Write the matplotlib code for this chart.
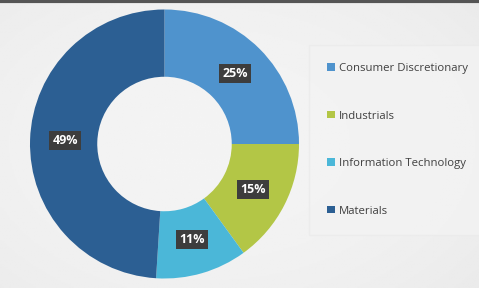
import matplotlib.pyplot as plt
from matplotlib.patches import Patch
import numpy as np

sectors = ['Consumer Discretionary', 'Industrials', 'Information Technology', 'Materials']
shares = [25, 15, 11, 49]
colors = ['#4f93cd', '#b3c646', '#4bb7d8', '#2c5f93']

W, H = 479, 288
fig = plt.figure(figsize=(W / 100, H / 100), dpi=100)

# soft grey background, lighter toward the middle
bg = fig.add_axes([0, 0, 1, 1])
yy, xx = np.mgrid[0:1:200j, 0:1:300j]
shade = 0.955 - 0.06 * ((xx - 0.45) ** 2 * 1.2 + (yy - 0.5) ** 2)
bg.imshow(shade, cmap='gray', vmin=0, vmax=1, aspect='auto',
          extent=[0, 1, 0, 1])
bg.axhline(0.995, color='#555555', lw=3)
bg.set_xlim(0, 1)
bg.set_ylim(0, 1)
bg.axis('off')

# donut
cx, cy, r = 164.5, 144, 134.5
ax = fig.add_axes([(cx - r) / W, (H - cy - r) / H, 2 * r / W, 2 * r / H])
wedges, texts, autotexts = ax.pie(
    shares, colors=colors, startangle=90, counterclock=False, radius=1,
    wedgeprops=dict(width=0.5, linewidth=0),
    autopct='%d%%', pctdistance=0.74,
    textprops=dict(color='white', fontsize=9, fontweight='bold',
                   family='Open Sans'))
for t in autotexts:
    t.set_bbox(dict(boxstyle='square,pad=0.25', facecolor='#3d3d3d',
                    edgecolor='none'))
ax.set_xlim(-1, 1)
ax.set_ylim(-1, 1)
ax.set_aspect('equal')
ax.axis('off')

# legend
handles = [Patch(facecolor=c, edgecolor='none') for c in colors]
leg = fig.legend(handles, sectors, loc='upper left',
                 bbox_to_anchor=(309 / W, 1 - 45 / H),
                 frameon=True, fancybox=False, labelspacing=3.2,
                 handlelength=0.65, handleheight=0.65, handletextpad=0.35,
                 borderpad=1.6, borderaxespad=0,
                 prop=dict(family='Open Sans', size=8.2))
leg.get_frame().set_facecolor('#f3f3f3')
leg.get_frame().set_edgecolor('#ebebeb')
for t in leg.get_texts():
    t.set_color('#404040')

fig.savefig('out.png', dpi=100)
